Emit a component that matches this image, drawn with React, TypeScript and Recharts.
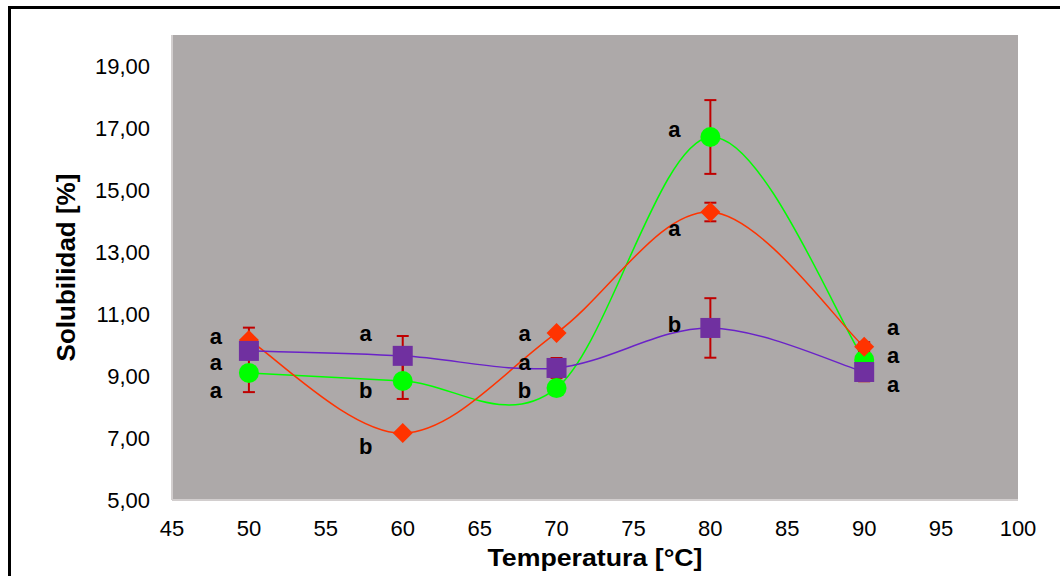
import React from 'react';
import {
    LineChart, Line, XAxis, YAxis, CartesianGrid, ErrorBar, LabelList,
} from 'recharts';

const temps = [50, 60, 70, 80, 90];

const rojo = [10.16, 7.16, 10.39, 14.29, 9.94];
const morado = [9.81, 9.65, 9.26, 10.55, 9.13];
const verde = [9.10, 8.84, 8.61, 16.71, 9.52];

const errRojo = [0.4, 0, 0, 0.3, 0.15];
const errMorado = [0, 0.64, 0.32, 0.96, 0.3];
const errVerde = [0.62, 0.58, 0, 1.19, 0];

const letrasRojo = ['a', 'b', 'a', 'a', 'a'];
const letrasMorado = ['a', 'a', 'a', 'b', 'a'];
const letrasVerde = ['a', 'b', 'b', 'a', 'a'];

const xTicks = [45, 50, 55, 60, 65, 70, 75, 80, 85, 90, 95, 100];
const yTicks = [5, 7, 9, 11, 13, 15, 17, 19];

// label offsets (px) from each marker, per series
const OFF_ROJO = [[-33, -4], [-37, 13], [-32, 1], [-36, 16], [29, -19]];
const OFF_MORADO = [[-33, 12], [-37, -22], [-32, -5], [-36, -3], [29, 13]];
const OFF_VERDE = [[-33, 18], [-37, 10], [-32, 2], [-36, -7], [29, -4]];

const data = temps.map((t, i) => ({
    temp: t,
    rojo: rojo[i],
    morado: morado[i],
    verde: verde[i],
    errRojo: errRojo[i],
    errMorado: errMorado[i],
    errVerde: errVerde[i],
    lRojo: letrasRojo[i],
    lMorado: letrasMorado[i],
    lVerde: letrasVerde[i],
}));

const FONT = 'Arial, "Liberation Sans", sans-serif';

// Excel-like smoothed line (Catmull-Rom through the points)
const excelSmooth = (context: any) => {
    let pts: number[][] = [];
    return {
        areaStart() {},
        areaEnd() {},
        lineStart() { pts = []; },
        lineEnd() {
            if (!pts.length) return;
            context.moveTo(pts[0][0], pts[0][1]);
            for (let i = 0; i < pts.length - 1; i++) {
                const p0 = pts[i - 1] || pts[i];
                const p1 = pts[i];
                const p2 = pts[i + 1];
                const p3 = pts[i + 2] || p2;
                context.bezierCurveTo(
                    p1[0] + (p2[0] - p0[0]) / 6, p1[1] + (p2[1] - p0[1]) / 6,
                    p2[0] - (p3[0] - p1[0]) / 6, p2[1] - (p3[1] - p1[1]) / 6,
                    p2[0], p2[1]
                );
            }
        },
        point(x: number, y: number) { pts.push([x, y]); },
    };
};

const Diamond = (p: any) => (
    <path key={`r-${p.index}`} d={`M${p.cx},${p.cy - 10}L${p.cx + 10},${p.cy}L${p.cx},${p.cy + 10}L${p.cx - 10},${p.cy}Z`} fill="#FF3300" />
);
const Square = (p: any) => (
    <rect key={`m-${p.index}`} x={p.cx - 10} y={p.cy - 10} width={20} height={20} fill="#7030A0" />
);
const Circle = (p: any) => (
    <circle key={`v-${p.index}`} cx={p.cx} cy={p.cy} r={10} fill="#00FF00" />
);

const letra = (offs: number[][]) => (p: any) => {
    const o = offs[p.index] || [0, 0];
    return (
        <text x={p.x + o[0]} y={p.y + o[1]} textAnchor="middle" dominantBaseline="central"
            fontFamily={FONT} fontWeight="bold" fontSize={22} fill="#000">{p.value}</text>
    );
};

const TituloX = (props: any) => {
    const vb = props.viewBox;
    return (
        <text x={vb.x + vb.width / 2} y={vb.y + vb.height - 10} textAnchor="middle"
            fontFamily={FONT} fontWeight="bold" fontSize={23} fill="#000"
            textLength={215} lengthAdjust="spacingAndGlyphs">Temperatura [°C]</text>
    );
};

const fmt = (v: number) => v.toFixed(2).replace('.', ',');

export default function App() {
    return (
        <div style={{ position: 'absolute', left: 0, top: 0, width: 1060, height: 576, overflow: 'hidden', background: '#fff' }}>
            <div style={{ position: 'absolute', left: 8, top: 6, width: 1100, height: 600, borderTop: '3px solid #000', borderLeft: '3px solid #000' }} />
            <div style={{ position: 'absolute', left: 0, top: 0 }}>
                <LineChart width={1060} height={576} data={data} margin={{ top: 35, right: 42, bottom: 0, left: 0 }}>
                    <CartesianGrid fill="#ADA9A9" horizontal={false} vertical={false} />
                    <XAxis dataKey="temp" type="number" domain={[45, 100]} ticks={xTicks} height={76}
                        tickSize={0} tickMargin={20} axisLine={{ stroke: '#D2CECE', strokeWidth: 2 }}
                        tick={{ fill: '#000', fontSize: 22, fontFamily: FONT }}
                        label={{ content: TituloX }} />
                    <YAxis type="number" domain={[5, 20]} ticks={yTicks} width={172} tickFormatter={fmt}
                        tickSize={0} tickMargin={22} axisLine={{ stroke: '#D2CECE', strokeWidth: 2 }}
                        tick={{ fill: '#000', fontSize: 22, fontFamily: FONT }}
                        label={{ value: 'Solubilidad [%]', angle: -90, position: 'insideLeft', offset: 66, fill: '#000', fontSize: 26, fontWeight: 'bold', fontFamily: FONT, style: { textAnchor: 'middle' } }} />
                    <Line dataKey="verde" type={excelSmooth as any} stroke="#00FF00" strokeWidth={1.5} dot={Circle} activeDot={false} isAnimationActive={false}>
                        <ErrorBar dataKey="errVerde" direction="y" width={6} stroke="#C00000" strokeWidth={2} />
                        <LabelList dataKey="lVerde" content={letra(OFF_VERDE)} />
                    </Line>
                    <Line dataKey="rojo" type={excelSmooth as any} stroke="#FF3300" strokeWidth={1.5} dot={Diamond} activeDot={false} isAnimationActive={false}>
                        <ErrorBar dataKey="errRojo" direction="y" width={6} stroke="#C00000" strokeWidth={2} />
                        <LabelList dataKey="lRojo" content={letra(OFF_ROJO)} />
                    </Line>
                    <Line dataKey="morado" type={excelSmooth as any} stroke="#6A22C8" strokeWidth={1.5} dot={Square} activeDot={false} isAnimationActive={false}>
                        <ErrorBar dataKey="errMorado" direction="y" width={6} stroke="#C00000" strokeWidth={2} />
                        <LabelList dataKey="lMorado" content={letra(OFF_MORADO)} />
                    </Line>
                </LineChart>
            </div>
        </div>
    );
}
